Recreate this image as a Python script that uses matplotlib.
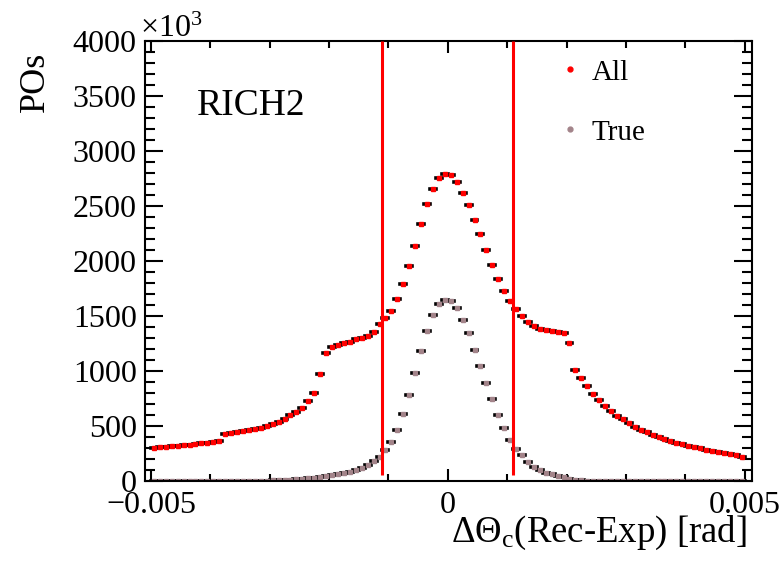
import numpy as np
import matplotlib
matplotlib.use("Agg")
import matplotlib.pyplot as plt
from matplotlib.lines import Line2D
from matplotlib.ticker import MultipleLocator, FixedLocator, FixedFormatter

# histogram binning: 100 bins over [-0.005, 0.005] rad
bin_lo, bin_hi, n_bins = -0.005, 0.005, 100

# photon counts per bin (x10^3)
all_counts = [
    305, 312, 317, 321, 325, 329, 334, 340, 346, 352,
    360, 368, 428, 440, 449, 458, 470, 480, 490, 503,
    520, 543, 570, 600, 635, 670, 730, 807, 975, 1165,
    1220, 1241, 1256, 1271, 1290, 1307, 1325, 1362, 1427, 1483,
    1549, 1653, 1796, 1955, 2142, 2342, 2520, 2659, 2759, 2795,
    2780, 2719, 2623, 2514, 2378, 2251, 2106, 1964, 1843, 1730,
    1635, 1563, 1502, 1451, 1413, 1389, 1374, 1365, 1354, 1344,
    1257, 1011, 936, 863, 797, 742, 685, 639, 597, 567,
    528, 497, 467, 446, 422, 406, 388, 370, 352, 337,
    325, 313, 301, 288, 277, 268, 256, 247, 238, 225,
]
true_counts = [
    3, 3, 3, 3, 3, 3, 3, 3, 3, 3,
    3, 3, 4, 4, 4, 5, 6, 7, 8, 9,
    11, 13, 16, 18, 20, 23, 29, 35, 44, 50,
    59, 68, 80, 89, 104, 125, 150, 189, 225, 286,
    361, 467, 609, 785, 981, 1184, 1371, 1516, 1616, 1646,
    1640, 1571, 1465, 1344, 1193, 1050, 891, 751, 606, 488,
    376, 295, 240, 180, 134, 104, 80, 65, 50, 38,
    25, 14, 10, 8, 7, 6, 5, 5, 4, 4,
    3, 3, 3, 3, 3, 3, 3, 3, 3, 3,
    3, 3, 3, 3, 3, 3, 3, 3, 3, 3,
]

# selection window
cut_lo, cut_hi = -0.0011, 0.0011

x_ticks = [-0.005, 0.0, 0.005]
x_tick_labels = ["\u22120.005", "0", "0.005"]
series_labels = ["All", "True"]
label_text = "RICH2"

plt.rcParams["font.family"] = ["Liberation Serif", "DejaVu Serif"]
plt.rcParams["mathtext.fontset"] = "custom"
plt.rcParams["mathtext.rm"] = "Liberation Serif"
plt.rcParams["mathtext.it"] = "Liberation Serif:italic"

edges = np.linspace(bin_lo, bin_hi, n_bins + 1)
centers = 0.5 * (edges[1:] + edges[:-1])
half_w = 0.5 * (edges[1] - edges[0])

fig = plt.figure(figsize=(7.83, 5.68), dpi=100)
ax = fig.add_axes([0.1852, 0.1523, 0.7749, 0.7755])

red = "#ff0000"
mauve = "#a3848a"

for counts, col in [(all_counts, red), (true_counts, mauve)]:
    eb = ax.errorbar(centers, counts, xerr=half_w, fmt="s", ms=2.9,
                     mfc=col, mec=col, ecolor="black", elinewidth=2.6,
                     capsize=0)
    eb[2][0].set_capstyle("projecting")

ax.vlines([cut_lo, cut_hi], 60, 4000, colors=red, lw=2.2, zorder=5)

ax.set_xlim(-0.0051, 0.00512)
ax.set_ylim(0, 4000)

ax.xaxis.set_major_locator(FixedLocator(x_ticks))
ax.xaxis.set_major_formatter(FixedFormatter(x_tick_labels))
ax.xaxis.set_minor_locator(MultipleLocator(0.001))
ax.yaxis.set_major_locator(MultipleLocator(500))
ax.yaxis.set_minor_locator(MultipleLocator(100))

for s in ax.spines.values():
    s.set_linewidth(1.5)
ax.tick_params(which="both", direction="in", top=True, right=True,
               width=1.5, labelsize=23)
ax.tick_params(axis="y", which="major", length=13, pad=6)
ax.tick_params(axis="y", which="minor", length=7.5)
ax.tick_params(axis="x", which="major", length=8.5, pad=6.5)
ax.tick_params(axis="x", which="minor", length=5)

# axis titles, ROOT-style placement
fig.text(0.954, 1 - 542 / 568, "\u0394\u0398$_{\\mathrm{c}}$(Rec-Exp) [rad]",
         ha="right", va="baseline", fontsize=26.5)
fig.text(0.0447, 1 - 52 / 568, "POs", rotation=90, ha="center", va="top",
         fontsize=26)
fig.text(140 / 783, 1 - 37 / 568, "\u00d710$^{3}$", ha="left", va="baseline",
         fontsize=23)

ax.text(0.0857, 0.832, label_text, transform=ax.transAxes, ha="left",
        va="baseline", fontsize=27)

handles = [
    Line2D([], [], marker="o", ls="", color=red, ms=3.5),
    Line2D([], [], marker="o", ls="", color=mauve, ms=3.5),
]
ax.legend(handles, series_labels, loc="upper left", bbox_to_anchor=(0.657, 0.985),
          frameon=False, fontsize=21, handlelength=1.0, handletextpad=0.25,
          labelspacing=1.15, borderaxespad=0, numpoints=1)

fig.savefig("out.png", dpi=100)
